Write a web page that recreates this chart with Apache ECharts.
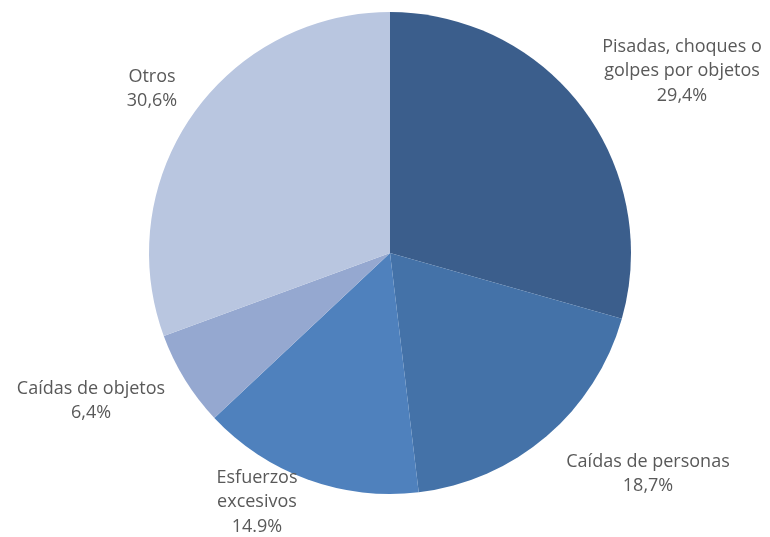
<!DOCTYPE html>
<html>
<head>
<meta charset="utf-8">
<script src="https://cdn.jsdelivr.net/npm/echarts@6/dist/echarts.min.js"></script>
<style>
  html, body { margin: 0; padding: 0; background: #fff; }
  #chart { width: 770px; height: 537px; }
</style>
</head>
<body>
<div id="chart"></div>
<script>
// data
var categories = ['Pisadas, choques o\ngolpes por objetos', 'Caídas de personas', 'Esfuerzos\nexcesivos', 'Caídas de objetos', 'Otros'];
var values = [29.4, 18.7, 14.9, 6.4, 30.6];
var valueLabels = ['29,4%', '18,7%', '14.9%', '6,4%', '30,6%'];

var colors = ['#3b5e8c', '#4472a8', '#4f81bd', '#95a8d0', '#b9c6e0'];
// label centres, px
var labelPos = [[682, 71], [648, 474], [257, 502], [91, 401], [152, 89]];

var chart = echarts.init(document.getElementById('chart'));

chart.setOption({
  animation: false,
  series: [{
    type: 'pie',
    center: [390, 253],
    radius: 241,
    startAngle: 90,
    clockwise: true,
    data: categories.map(function (c, i) {
      return { name: c, value: values[i], itemStyle: { color: colors[i] } };
    }),
    label: {
      show: true,
      position: 'outside',
      formatter: function (p) {
        return p.name + '\n' + valueLabels[p.dataIndex];
      },
      overflow: 'none',
      color: '#595959',
      fontFamily: 'Open Sans',
      fontSize: 18,
      lineHeight: 24.5,
      align: 'center'
    },
    labelLine: { show: false },
    labelLayout: function (params) {
      var pos = labelPos[params.dataIndex];
      return {
        x: pos[0],
        y: pos[1],
        align: 'center',
        verticalAlign: 'middle'
      };
    },
    emphasis: { disabled: true }
  }]
});
</script>
</body>
</html>
